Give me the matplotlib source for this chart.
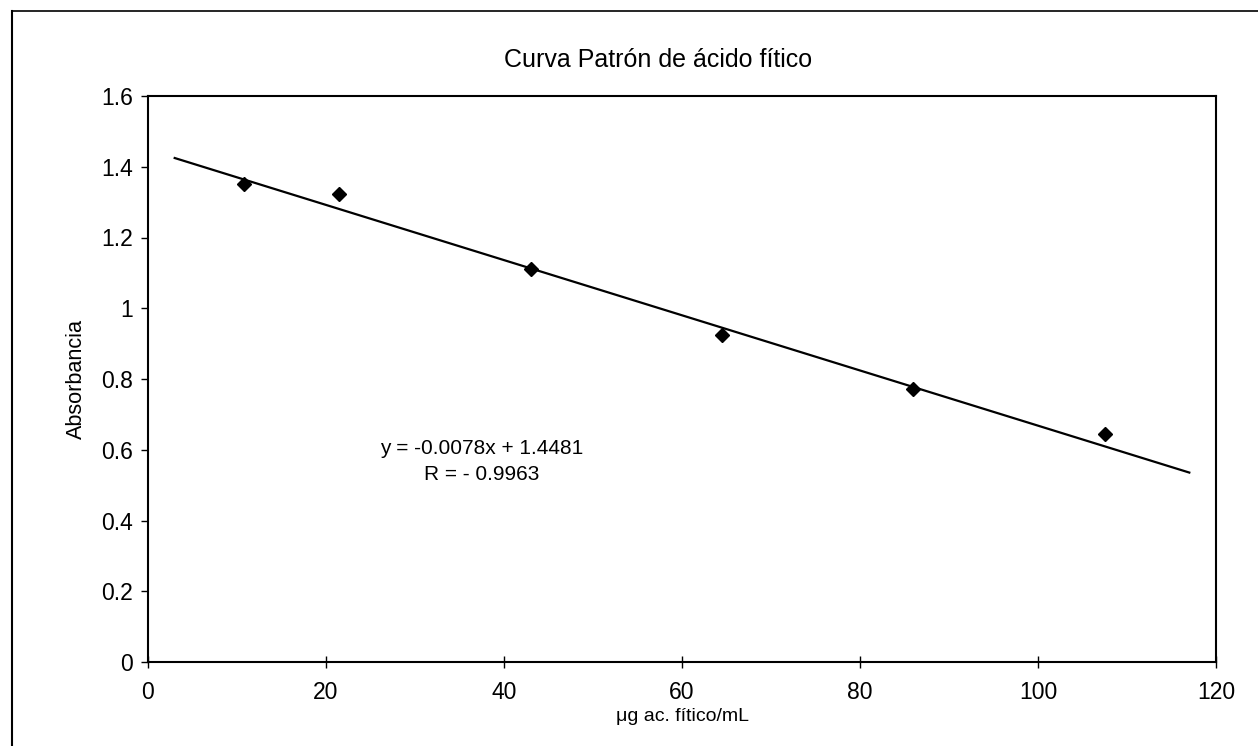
import matplotlib
matplotlib.use('Agg')
import matplotlib.pyplot as plt
import numpy as np
from matplotlib.lines import Line2D
from matplotlib.ticker import FuncFormatter

plt.rcParams['font.family'] = ['Liberation Sans', 'DejaVu Sans']

# datos de la curva patron
conc = [10.75, 21.5, 43.0, 64.5, 86.0, 107.5]      # ug ac. fitico/mL
absorb = [1.351, 1.323, 1.111, 0.924, 0.772, 0.645]
pendiente = -0.0078
intercepto = 1.4481
rango_linea = [3, 117]

fig = plt.figure(figsize=(12.58, 7.46), dpi=100)
ax = fig.add_axes([148 / 1258, 84 / 746, 1068 / 1258, 566 / 746])

# linea de tendencia
xl = np.array(rango_linea)
ax.plot(xl, pendiente * xl + intercepto, color='black', lw=1.6)
ax.plot(conc, absorb, 'D', color='black', markersize=7.5)

ax.set_xlim(0, 120)
ax.set_ylim(0, 1.6)
ax.set_xticks(np.arange(0, 121, 20))
ax.set_yticks(np.arange(0, 1.61, 0.2))
ax.yaxis.set_major_formatter(FuncFormatter(lambda v, p: '%g' % round(v, 1)))
ax.tick_params(axis='x', direction='inout', length=9, width=1, labelsize=16.5, pad=9)
ax.tick_params(axis='y', direction='out', length=5, width=1, labelsize=16.5, pad=6)
for s in ax.spines.values():
    s.set_linewidth(1.5)

ax.set_xlabel('μg ac. fítico/mL', fontsize=14, labelpad=3)
ax.set_ylabel('Absorbancia', fontsize=15.6, labelpad=10)
fig.text(658 / 1258, 1 - 60 / 746, 'Curva Patrón de ácido fítico', fontsize=18,
         ha='center', va='center')

ax.text(37.5, 0.567, 'y = -0.0078x + 1.4481\nR = - 0.9963', fontsize=15,
        ha='center', va='center', linespacing=1.45)

# marco exterior
fig.add_artist(Line2D([12 / 1258, 1], [1 - 11 / 746] * 2, transform=fig.transFigure,
                      color='black', lw=1.2))
fig.add_artist(Line2D([12 / 1258] * 2, [0, 1 - 11 / 746], transform=fig.transFigure,
                      color='black', lw=1.5))

fig.savefig('out.png', dpi=100)
